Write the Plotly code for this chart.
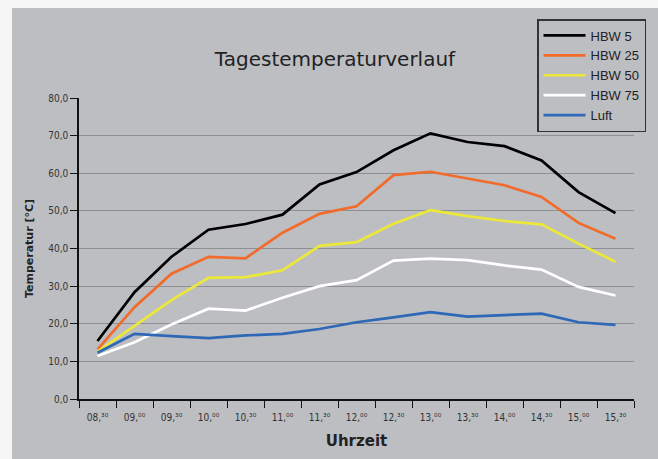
import plotly.graph_objects as go

categories = ["08:30", "09:00", "09:30", "10:00", "10:30", "11:00", "11:30", "12:00",
              "12:30", "13:00", "13:30", "14:00", "14:30", "15:00", "15:30"]
tick_labels = ["08,³⁰", "09,⁰⁰", "09,³⁰", "10,⁰⁰", "10,³⁰", "11,⁰⁰", "11,³⁰", "12,⁰⁰",
               "12,³⁰", "13,⁰⁰", "13,³⁰", "14,⁰⁰", "14,³⁰", "15,⁰⁰", "15,³⁰"]

hbw5 = [15.4, 28.4, 37.8, 45.0, 46.5, 49.0, 57.0, 60.3, 66.1, 70.6, 68.3, 67.2, 63.4, 55.0, 49.4]
hbw25 = [13.2, 24.4, 33.3, 37.8, 37.4, 44.2, 49.2, 51.2, 59.5, 60.4, 58.6, 56.8, 53.7, 46.8, 42.6]
hbw50 = [12.6, 19.4, 26.3, 32.2, 32.4, 34.2, 40.7, 41.7, 46.6, 50.2, 48.6, 47.3, 46.4, 41.3, 36.5]
hbw75 = [11.4, 15.1, 19.8, 24.0, 23.5, 26.9, 30.0, 31.6, 36.8, 37.3, 36.9, 35.5, 34.4, 29.8, 27.5]
luft = [12.3, 17.3, 16.7, 16.2, 16.9, 17.3, 18.6, 20.4, 21.7, 23.1, 21.9, 22.3, 22.7, 20.4, 19.7]

series = [
    ("HBW 5", hbw5, "#000000"),
    ("HBW 25", hbw25, "#f26b2a"),
    ("HBW 50", hbw50, "#ece83a"),
    ("HBW 75", hbw75, "#ffffff"),
    ("Luft", luft, "#2e68b6"),
]

BG = "#bdbec2"
W, H = 658, 459
ML, MR, MT, MB = 79, 24, 98, 60
pw = W - ML - MR
ph = H - MT - MB

fig = go.Figure()
for name, vals, col in series:
    fig.add_trace(go.Scatter(x=categories, y=vals, name=name, mode="lines",
                             line=dict(color=col, width=2.7)))

def px_x(p):
    return (p - ML) / pw

def px_y(p):
    return (H - MB - p) / ph

fig.update_layout(
    width=W, height=H,
    margin=dict(l=ML, r=MR, t=MT, b=MB),
    paper_bgcolor="#f6f6f6",
    plot_bgcolor=BG,
    separators=",.",
    font=dict(family="DejaVu Sans", color="#222222"),
    shapes=[dict(type="rect", xref="paper", yref="paper",
                 x0=px_x(12), x1=px_x(W + 5), y0=px_y(H + 5), y1=px_y(8),
                 fillcolor=BG, line=dict(width=0), layer="below")],
    title=dict(text="Tagestemperaturverlauf", x=px_x(335), xanchor="center",
               y=1 - 59 / H, yanchor="middle", xref="paper",
               font=dict(size=20, color="#222222", family="DejaVu Sans")),
    legend=dict(x=px_x(537), y=px_y(19), xanchor="left", yanchor="top",
                bgcolor=BG, bordercolor="#333333", borderwidth=1.5,
                font=dict(size=13, color="#222222", family="Liberation Sans"),
                tracegroupgap=0, itemwidth=42),
    showlegend=True,
)

tick_font = dict(size=10, color="#333333", family="Liberation Sans Narrow, DejaVu Sans Condensed")

fig.update_xaxes(
    type="category", categoryorder="array", categoryarray=categories,
    tickmode="array", tickvals=categories, ticktext=tick_labels,
    range=[-0.5, len(categories) - 0.5],
    tickson="boundaries", ticks="outside", ticklen=7, tickcolor="#111111", tickwidth=1.2,
    ticklabelstandoff=8,
    showline=True, linecolor="#111111", linewidth=1.5,
    showgrid=False, zeroline=False,
    tickfont=tick_font,
    title=dict(text="<b>Uhrzeit</b>", font=dict(size=15, color="#222222"), standoff=14),
)
fig.update_yaxes(
    range=[0, 80], dtick=10, tick0=0, tickformat=".1f",
    ticks="outside", ticklen=7, tickcolor="#111111", tickwidth=1.2,
    showline=True, linecolor="#111111", linewidth=1.5,
    showgrid=True, gridcolor="#8e8f93", gridwidth=1,
    zeroline=False,
    tickfont=tick_font,
    title=dict(text="<b>Temperatur [°C]</b>", font=dict(size=11, color="#222222"), standoff=12),
)

fig.write_html("out.html", config={"displayModeBar": False})

with open("out.html", "r", encoding="utf-8") as f:
    html = f.read()
html = html.replace("<body>", '<body style="margin:0;padding:0;">', 1)
with open("out.html", "w", encoding="utf-8") as f:
    f.write(html)
